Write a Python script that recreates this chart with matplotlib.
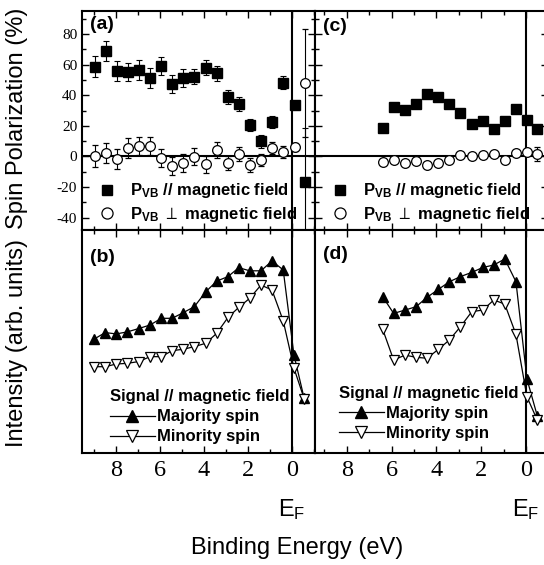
import matplotlib
matplotlib.use('Agg')
import matplotlib.pyplot as plt
from matplotlib.ticker import MultipleLocator, NullLocator
from matplotlib.lines import Line2D

plt.rcParams['font.family'] = ['Liberation Sans', 'DejaVu Sans']
plt.rcParams['mathtext.fontset'] = 'custom'
plt.rcParams['mathtext.rm'] = 'Liberation Sans:bold'
plt.rcParams['mathtext.bf'] = 'Liberation Sans:bold'
plt.rcParams['mathtext.it'] = 'Liberation Sans:bold'

# ---------------- data ----------------
# Panel (a): spin polarization, sample 1
a_E = [8.97, 8.45, 7.97, 7.47, 6.94, 6.45, 5.94, 5.45, 4.95, 4.44,
       3.92, 3.41, 2.91, 2.42, 1.91, 1.41, 0.91, 0.40, -0.12, -0.59]
a_par = [58.6, 69.0, 55.7, 55.3, 56.2, 51.3, 59.2, 47.4, 51.3, 52.2,
         57.9, 54.2, 38.9, 34.3, 20.5, 9.8, 22.7, 48.3, 33.9, -16.4]
a_par_err = [7, 6.5, 6.5, 6, 6.5, 6.5, 6, 6, 6, 5,
             5, 5, 4.5, 4.5, 4, 4, 4, 4, 0, 35]
a_perp = [0.2, 2.0, -1.5, 5.5, 6.8, 6.8, -1.1, -6.1, -4.2, -0.2,
          -5.2, 4.2, -4.2, 1.7, -5.7, -2.2, 5.5, 2.8, 6.1, 48.0]
a_perp_err = [7, 6.5, 6.5, 6.5, 6, 6, 6, 6, 6, 5.5,
              5.5, 5, 4.5, 4.5, 4.5, 4, 4, 4, 2.5, 35]

# Panel (c): spin polarization, sample 2
c_E = [6.40, 5.91, 5.40, 4.91, 4.42, 3.91, 3.42, 2.93, 2.42, 1.93,
       1.44, 0.95, 0.45, -0.04, -0.50]
c_par = [18.6, 32.3, 30.2, 34.6, 41.1, 38.9, 34.3, 28.6, 21.0, 23.4,
         17.7, 23.4, 30.8, 24.1, 17.7]
c_perp = [-3.7, -2.2, -4.2, -2.8, -5.4, -4.2, -2.6, 1.1, 0.0, 1.1,
          1.5, -2.6, 2.6, 2.8, 1.7]
c_perp_err = [0, 0, 0, 0, 0, 0, 0, 0, 0, 0, 0, 0, 0, 0, 4.5]

# Panel (b): intensity, sample 1
b_E = [8.99, 8.49, 7.99, 7.49, 6.97, 6.45, 5.94, 5.45, 4.95, 4.44,
       3.92, 3.42, 2.91, 2.42, 1.92, 1.41, 0.91, 0.40, -0.09, -0.55]
b_maj = [51.1, 54.0, 53.4, 54.3, 55.8, 57.4, 60.4, 60.4, 62.9, 65.6,
         72.3, 77.1, 79.1, 83.1, 81.7, 81.7, 86.1, 82.1, 43.9, 24.6]
b_min = [38.7, 38.7, 39.9, 40.2, 41.0, 43.2, 43.2, 45.9, 46.5, 47.7,
         49.2, 53.7, 60.8, 65.3, 69.4, 75.3, 73.1, 59.3, 38.0, 24.4]

# Panel (d): intensity, sample 2
d_E = [6.40, 5.91, 5.40, 4.91, 4.42, 3.91, 3.42, 2.93, 2.42, 1.93,
       1.44, 0.95, 0.45, -0.04, -0.50]
d_maj = [70.1, 62.6, 64.1, 65.6, 69.8, 73.4, 76.8, 79.1, 81.0, 83.2,
         84.3, 87.0, 76.8, 33.2, 16.7]
d_min = [55.5, 41.7, 43.9, 42.9, 42.5, 46.5, 50.7, 56.6, 63.4, 64.1,
         68.6, 66.8, 53.2, 25.2, 14.8]

x_ticks = [8, 6, 4, 2, 0]
x_ticklabels = ['8', '6', '4', '2', '0']
y_ticks = [-40, -20, 0, 20, 40, 60, 80]
y_ticklabels = ['-40', '-20', '0', '20', '40', '60', '80']

lbl_par = r'P$_{\mathbf{VB}}$ // magnetic field'
lbl_perp = r'P$_{\mathbf{VB}}$ $\perp$ magnetic field'

# ---------------- figure ----------------
W, H = 544, 565
fig = plt.figure(figsize=(W / 100, H / 100), dpi=100)


def box(x0, y0, x1, y1):
    return [x0 / W, 1 - y1 / H, (x1 - x0) / W, (y1 - y0) / H]


axa = fig.add_axes(box(82, 11, 315, 230))
axc = fig.add_axes(box(315, 11, 548, 230))
axb = fig.add_axes(box(82, 230, 315, 453))
axd = fig.add_axes(box(315, 230, 548, 453))

left_xlim = (9.545, -1.045)
right_xlim = (9.42, -0.98)

for ax, xl in [(axa, left_xlim), (axb, left_xlim), (axc, right_xlim), (axd, right_xlim)]:
    ax.set_xlim(*xl)
    for s in ax.spines.values():
        s.set_linewidth(1.5)
    ax.xaxis.set_major_locator(MultipleLocator(2))
    ax.xaxis.set_minor_locator(MultipleLocator(1))
    ax.tick_params(axis='both', which='both', direction='in', top=True, right=True,
                   width=1.0)
    ax.tick_params(which='major', length=5)
    ax.tick_params(which='minor', length=3)
    ax.axvline(0, color='black', lw=1.5, zorder=1)

for ax in (axa, axc):
    ax.set_ylim(-48, 95)
    ax.set_yticks(y_ticks)
    ax.yaxis.set_minor_locator(MultipleLocator(10))
    ax.axhline(0, color='black', lw=1.5, zorder=1)
    ax.tick_params(labelbottom=False)

axa.set_yticklabels(y_ticklabels, fontfamily='Liberation Serif', fontsize=11)
axc.tick_params(labelleft=False)

for ax in (axb, axd):
    ax.set_ylim(0, 100)
    ax.yaxis.set_major_locator(NullLocator())
    ax.yaxis.set_minor_locator(NullLocator())
    ax.set_xticks(x_ticks)
    ax.set_xticklabels(x_ticklabels, fontfamily='Liberation Serif', fontsize=17.5)
    ax.tick_params(axis='x', pad=5)

# (a)
axa.errorbar(a_E, a_par, yerr=a_par_err, fmt='s', color='black', ms=6.5,
             elinewidth=0.8, capsize=2.5, capthick=0.8, zorder=3)
axa.errorbar(a_E, a_perp, yerr=a_perp_err, fmt='o', color='black', mfc='white',
             mec='black', ms=7, mew=0.9, elinewidth=0.8, capsize=2.5,
             capthick=0.8, zorder=4)
# (c)
axc.plot(c_E, c_par, 's', color='black', ms=6.5, zorder=3)
axc.errorbar(c_E, c_perp, yerr=c_perp_err, fmt='o', color='black', mfc='white',
             mec='black', ms=7, mew=0.9, elinewidth=0.8, capsize=2.5,
             capthick=0.8, zorder=4)

# (b), (d)
for ax, E, maj, mn in [(axb, b_E, b_maj, b_min), (axd, d_E, d_maj, d_min)]:
    ax.plot(E, maj, '-^', color='black', lw=0.9, ms=7.2, zorder=3)
    ax.plot(E, mn, '-v', color='black', mfc='white', mec='black', mew=0.9,
            lw=0.9, ms=7.2, zorder=3)

# legends
sq = Line2D([], [], ls='none', marker='s', color='black', ms=7.5)
ci = Line2D([], [], ls='none', marker='o', mfc='white', mec='black', ms=8, mew=0.9)
up = Line2D([], [], ls='-', lw=0.9, marker='^', color='black', ms=8)
dn = Line2D([], [], ls='-', lw=0.9, marker='v', color='black', mfc='white', mew=0.9, ms=8)
prop = {'family': ['Liberation Sans', 'DejaVu Sans'], 'weight': 'bold', 'size': 12}

for ax, x0 in [(axa, 0.072), (axc, 0.072)]:
    ax.legend([sq, ci], [lbl_par, lbl_perp], loc='upper left',
              bbox_to_anchor=(x0, 0.222), frameon=False, prop=prop,
              handlelength=1.0, handletextpad=0.9, labelspacing=0.25,
              borderpad=0, borderaxespad=0)

for ax, x0, y0 in [(axb, 0.12, 0.285), (axd, 0.103, 0.30)]:
    leg = ax.legend([up, dn], ['Majority spin', 'Minority spin'], loc='upper left',
                    bbox_to_anchor=(x0, y0), frameon=False, prop=prop,
                    title='Signal // magnetic field', title_fontproperties=prop,
                    alignment='left', handlelength=2.7, handletextpad=0.15,
                    labelspacing=0.3, borderpad=0, borderaxespad=0)

# panel labels
for ax, t, y in [(axa, '(a)', 0.975), (axc, '(c)', 0.97), (axb, '(b)', 0.915), (axd, '(d)', 0.93)]:
    ax.text(0.035, y, t, transform=ax.transAxes, ha='left', va='top',
            fontsize=14, fontweight='bold')

# axis labels
fig.text(17 / W, 1 - 118 / H, 'Spin Polarization (%)', rotation=90,
         ha='center', va='center', fontsize=17)
fig.text(17 / W, 1 - 343 / H, 'Intensity (arb. units)', rotation=90,
         ha='center', va='center', fontsize=17)
fig.text(297 / W, 1 - 548 / H, 'Binding Energy (eV)', ha='center', va='center',
         fontsize=17)
for ax in (axb, axd):
    ax.text(0, -0.255, r'E$_{\mathregular{F}}$', transform=ax.get_xaxis_transform(),
            ha='center', va='center', fontsize=17)

fig.savefig('out.png', dpi=100)
